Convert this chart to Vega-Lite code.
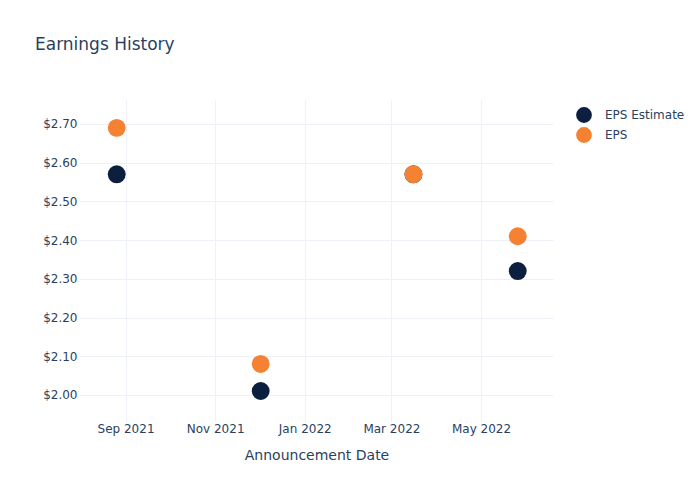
{
  "$schema": "https://vega.github.io/schema/vega-lite/v6.json",
  "autosize": "none",
  "width": 473,
  "height": 322,
  "padding": {"left": 80, "top": 100, "right": 147, "bottom": 78},
  "background": "white",
  "title": {
    "text": "Earnings History",
    "anchor": "start",
    "frame": "group",
    "dx": -45,
    "offset": 46,
    "fontSize": 17,
    "fontWeight": "normal",
    "font": "DejaVu Sans",
    "color": "#2a3f5f"
  },
  "config": {
    "view": {"stroke": null},
    "font": "DejaVu Sans",
    "axis": {
      "domain": false,
      "ticks": false,
      "gridColor": "#eef2f8",
      "gridWidth": 1,
      "labelColor": "#2a3f5f",
      "labelFontSize": 12,
      "titleColor": "#2a3f5f",
      "titleFontSize": 14,
      "titleFontWeight": "normal",
      "labelFont": "DejaVu Sans",
      "titleFont": "DejaVu Sans"
    },
    "legend": {"labelColor": "#2a3f5f", "labelFontSize": 12, "labelFont": "DejaVu Sans"}
  },
  "data": {
    "values": [
      {"date": "2021-08-26", "series": "EPS Estimate", "value": 2.57},
      {"date": "2021-12-02", "series": "EPS Estimate", "value": 2.01},
      {"date": "2022-03-16", "series": "EPS Estimate", "value": 2.57},
      {"date": "2022-05-26", "series": "EPS Estimate", "value": 2.32},
      {"date": "2021-08-26", "series": "EPS", "value": 2.69},
      {"date": "2021-12-02", "series": "EPS", "value": 2.08},
      {"date": "2022-03-16", "series": "EPS", "value": 2.57},
      {"date": "2022-05-26", "series": "EPS", "value": 2.41}
    ]
  },
  "mark": {"type": "point", "filled": true, "opacity": 1, "size": 320},
  "encoding": {
    "x": {
      "field": "date",
      "type": "temporal",
      "title": "Announcement Date",
      "scale": {"domain": [{"year": 2021, "month": 8, "date": 1}, {"year": 2022, "month": 6, "date": 19}]},
      "axis": {
        "values": [
          {"year": 2021, "month": 9, "date": 1},
          {"year": 2021, "month": 11, "date": 1},
          {"year": 2022, "month": 1, "date": 1},
          {"year": 2022, "month": 3, "date": 1},
          {"year": 2022, "month": 5, "date": 1}
        ],
        "format": "%b %Y",
        "labelPadding": 1,
        "titlePadding": 14
      }
    },
    "y": {
      "field": "value",
      "type": "quantitative",
      "title": null,
      "scale": {"domain": [1.93, 2.762], "nice": false, "zero": false},
      "axis": {"values": [2.0, 2.1, 2.2, 2.3, 2.4, 2.5, 2.6, 2.7], "format": "$.2f", "labelPadding": 3}
    },
    "color": {
      "field": "series",
      "type": "nominal",
      "title": null,
      "scale": {"domain": ["EPS Estimate", "EPS"], "range": ["#0c1f3f", "#f58233"]},
      "legend": {"orient": "none", "legendX": 495, "legendY": 6, "symbolSize": 250, "symbolType": "circle", "rowPadding": 3, "labelOffset": 12}
    },
    "order": {"field": "series", "sort": "descending"}
  }
}
